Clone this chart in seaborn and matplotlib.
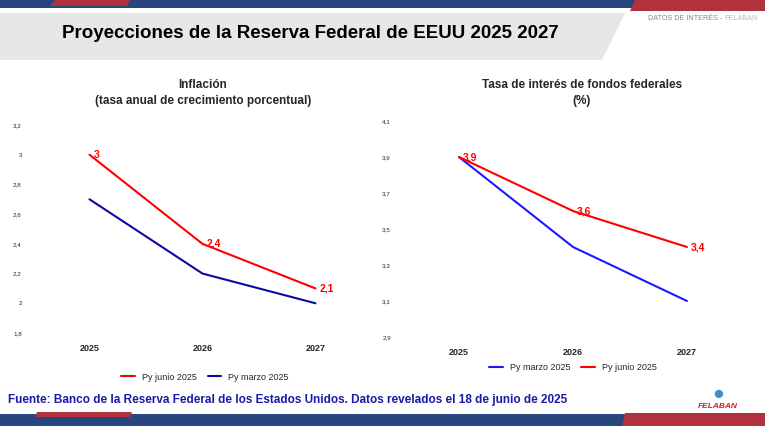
import matplotlib
matplotlib.use("Agg")
import matplotlib.pyplot as plt
import seaborn as sns
import pandas as pd
from matplotlib.patches import Polygon

years = ["2025", "2026", "2027"]
inf_junio = [3.0, 2.4, 2.1]
inf_marzo = [2.7, 2.2, 2.0]
tasa_marzo = [3.9, 3.4, 3.1]
tasa_junio = [3.9, 3.6, 3.4]
inf_ticks = [1.8, 2.0, 2.2, 2.4, 2.6, 2.8, 3.0, 3.2]
tasa_ticks = [2.9, 3.1, 3.3, 3.5, 3.7, 3.9, 4.1]

sns.set_style("white")
plt.rcParams['font.family'] = ['Liberation Sans', 'DejaVu Sans']
W, H = 765, 426
fig = plt.figure(figsize=(W/100, H/100), dpi=100)

def poly(pts, color, z=0):
    fig.patches.append(Polygon([(x, H - y) for x, y in pts], closed=True,
                               transform=None, facecolor=color, edgecolor='none', zorder=z))

NAVY = '#27457f'; RED = '#b0323e'
poly([(0, 0), (765, 0), (765, 8), (0, 8)], NAVY)
poly([(55, 0), (130, 0), (127, 6), (50, 6)], RED)
poly([(635, 0), (765, 0), (765, 11), (630, 11)], RED)
poly([(0, 13), (625, 13), (602, 60), (0, 60)], '#e6e7e8')
poly([(0, 414), (700, 414), (697, 426), (0, 426)], NAVY)
poly([(37, 412), (132, 412), (130, 417), (35, 417)], RED)
poly([(625, 413), (765, 413), (765, 426), (622, 426)], RED)

fig.text(310/W, 1 - 33/H, "Proyecciones de la Reserva Federal de EEUU 2025 2027",
         ha='center', va='center', fontsize=13.5, fontweight='bold', color='black')
fig.text(722/W, 1 - 19/H, "DATOS DE INTERÉS -", ha='right', va='center', fontsize=5.2, color='#888888')
fig.text(724/W, 1 - 19/H, "FELABAN", ha='left', va='center', fontsize=5.2, color='#bbbbbb')
fig.text(8/W, 1 - 400/H, "Fuente: Banco de la Reserva Federal de los Estados Unidos. Datos revelados el 18 de junio de 2025",
         ha='left', va='center', fontsize=8.5, fontweight='bold', color='#1a1aa8')
fig.text(718/W, 1 - 407/H, "FELABAN", ha='center', va='center', fontsize=6, fontweight='bold',
         color='#d42020', style='italic')
fig.text(718/W, 1 - 395/H, "●", ha='center', va='center', fontsize=14, color='#3a8fd0')

def make_ax(x0, x1, ytop, ybot, lo, hi, ticks, series, title, labelser, legy, legx, tx):
    ax = fig.add_axes([x0/W, 1 - ybot/H, (x1 - x0)/W, (ybot - ytop)/H])
    for name, vals, col in series:
        df = pd.DataFrame({"year": years, "v": vals})
        sns.lineplot(data=df, x="year", y="v", ax=ax, color=col, lw=1.5, label=name, sort=False)
    ax.set_xlim(-0.5, 2.5)
    ax.set_ylim(lo, hi)
    ax.set_yticks(ticks)
    ax.set_yticklabels([f"{t:g}".replace('.', ',') for t in ticks], fontsize=4.5)
    ax.tick_params(axis='x', labelsize=6.5, length=0, pad=8)
    ax.tick_params(axis='y', length=0, pad=8)
    for l in ax.get_xticklabels():
        l.set_fontweight('bold')
    for s in ax.spines.values():
        s.set_visible(False)
    ax.set_xlabel(""); ax.set_ylabel("")
    for i, v in enumerate(labelser):
        ax.annotate(f"{v:g}".replace('.', ','), (i, v), xytext=(3, 0), textcoords='offset points',
                    color='#ff0000', fontsize=7.5, fontweight='bold', va='center')
    fig.text(tx/W, 1 - 93/H, title, ha='center', va='center', fontsize=8.5,
             fontweight='bold', linespacing=1.5)
    ax.legend(loc='center', bbox_to_anchor=(legx, legy), bbox_transform=fig.transFigure,
              ncol=2, frameon=False, fontsize=6.5, handlelength=1.5, columnspacing=1.2)
    return ax

make_ax(33, 372, 125, 333, 1.8, 3.2, inf_ticks,
        [("Py junio 2025", inf_junio, '#ff0000'), ("Py marzo 2025", inf_marzo, '#0a0aa0')],
        "Inflación\n(tasa anual de crecimiento porcentual)", inf_junio, 1 - 377/H, 205/W, 203)
make_ax(402, 744, 121, 337, 2.9, 4.1, tasa_ticks,
        [("Py marzo 2025", tasa_marzo, '#1a1aff'), ("Py junio 2025", tasa_junio, '#ff0000')],
        "Tasa de interés de fondos federales\n(%)", tasa_junio, 1 - 368/H, 573/W, 582)

fig.savefig("out.png", dpi=100)
